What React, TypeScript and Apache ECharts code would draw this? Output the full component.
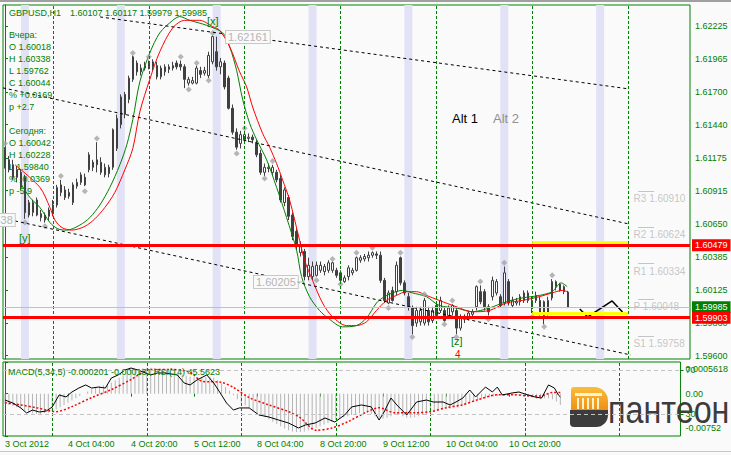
import React, { useEffect, useRef } from 'react';
import * as echarts from 'echarts';

const FONT = 'Liberation Sans';
const GREEN = '#008000';

const BAR_SLOTS = 172;
const labelBars = [0, 16, 32, 48, 64, 80, 96, 112, 128];
const timeLabels = ['3 Oct 2012', '4 Oct 04:00', '4 Oct 20:00', '5 Oct 12:00', '8 Oct 04:00', '8 Oct 20:00', '9 Oct 12:00', '10 Oct 04:00', '10 Oct 20:00'];
const priceTicks = [1.596, 1.5986, 1.60125, 1.60385, 1.6065, 1.60915, 1.61175, 1.6144, 1.617, 1.61965, 1.62225];
const macdTicks = [-0.000752, 0, 0.0005618];
const macdTickLabels = ['-0.00752', '0.00', '0.0005618'];
const rsiLevels = [30, 70];

// [open, high, low, close]
const ohlc = [
  [1.6124, 1.6126, 1.6109, 1.6112], [1.6116, 1.6119, 1.6106, 1.6108], [1.6112, 1.6116, 1.6100, 1.6102], [1.6102, 1.6111, 1.6098, 1.6108],
  [1.6106, 1.6108, 1.6092, 1.6094], [1.6102, 1.6104, 1.6069, 1.6074], [1.6072, 1.6084, 1.6070, 1.6082], [1.6074, 1.6084, 1.6071, 1.6082],
  [1.6084, 1.6086, 1.6071, 1.6072], [1.6073, 1.6076, 1.6067, 1.6070], [1.6068, 1.6074, 1.6066, 1.6072], [1.6071, 1.6078, 1.6068, 1.6076],
  [1.6073, 1.6084, 1.6071, 1.6080], [1.6080, 1.6096, 1.6078, 1.6094], [1.6096, 1.6100, 1.6087, 1.6090], [1.6092, 1.6095, 1.6084, 1.6086],
  [1.6087, 1.6093, 1.6085, 1.6090], [1.6096, 1.6098, 1.6080, 1.6082], [1.6095, 1.6101, 1.6093, 1.6098], [1.6098, 1.6106, 1.6096, 1.6104],
  [1.6102, 1.6105, 1.6095, 1.6096], [1.6108, 1.6122, 1.6106, 1.6120], [1.6114, 1.6116, 1.6107, 1.6110], [1.6112, 1.6130, 1.6106, 1.6116],
  [1.6114, 1.6118, 1.6104, 1.6106], [1.6104, 1.6113, 1.6102, 1.6110], [1.6110, 1.6112, 1.6102, 1.6105], [1.6110, 1.6141, 1.6108, 1.6140],
  [1.6125, 1.6152, 1.6123, 1.6149], [1.6144, 1.6168, 1.6141, 1.6166], [1.6168, 1.6170, 1.6149, 1.6152], [1.6164, 1.6183, 1.6161, 1.6181],
  [1.6180, 1.6199, 1.6178, 1.6198], [1.6193, 1.6195, 1.6183, 1.6186], [1.6186, 1.6192, 1.6183, 1.6189], [1.6189, 1.6194, 1.6187, 1.6191],
  [1.6190, 1.6195, 1.6188, 1.6193], [1.6190, 1.6196, 1.6187, 1.6194], [1.6191, 1.6194, 1.6180, 1.6182], [1.6182, 1.6191, 1.6180, 1.6189],
  [1.6186, 1.6192, 1.6183, 1.6190], [1.6188, 1.6192, 1.6185, 1.6190], [1.6189, 1.6194, 1.6187, 1.6191], [1.6193, 1.6195, 1.6188, 1.6190],
  [1.6192, 1.6195, 1.6187, 1.6190], [1.6190, 1.6192, 1.6173, 1.6180], [1.6177, 1.6182, 1.6175, 1.6180], [1.6177, 1.6182, 1.6176, 1.6179],
  [1.6177, 1.6191, 1.6176, 1.6189], [1.6187, 1.6190, 1.6181, 1.6184], [1.6185, 1.6190, 1.6183, 1.6187], [1.6183, 1.6202, 1.6181, 1.6199],
  [1.6194, 1.6215, 1.6192, 1.6214], [1.6202, 1.6214, 1.6187, 1.6190], [1.6190, 1.6197, 1.6184, 1.6194], [1.6193, 1.6195, 1.6172, 1.6174],
  [1.6181, 1.6183, 1.6156, 1.6157], [1.6157, 1.6160, 1.6136, 1.6138], [1.6138, 1.6141, 1.6124, 1.6126], [1.6129, 1.6139, 1.6125, 1.6136],
  [1.6132, 1.6139, 1.6129, 1.6136], [1.6133, 1.6137, 1.6130, 1.6134], [1.6134, 1.6136, 1.6129, 1.6132], [1.6129, 1.6132, 1.6118, 1.6120],
  [1.6121, 1.6124, 1.6104, 1.6106], [1.6106, 1.6113, 1.6103, 1.6110], [1.6109, 1.6113, 1.6106, 1.6110], [1.6106, 1.6112, 1.6104, 1.6110],
  [1.6106, 1.6108, 1.6098, 1.6100], [1.6101, 1.6104, 1.6082, 1.6084], [1.6082, 1.6094, 1.6079, 1.6092], [1.6086, 1.6088, 1.6068, 1.6071],
  [1.6072, 1.6074, 1.6052, 1.6055], [1.6059, 1.6061, 1.6044, 1.6047], [1.6042, 1.6051, 1.6039, 1.6048], [1.6043, 1.6045, 1.6020, 1.6023],
  [1.6023, 1.6038, 1.6020, 1.6032], [1.6023, 1.6035, 1.6020, 1.6031], [1.6024, 1.6035, 1.6023, 1.6032], [1.6028, 1.6035, 1.6026, 1.6032],
  [1.6027, 1.6033, 1.6024, 1.6031], [1.6028, 1.6036, 1.6026, 1.6034], [1.6028, 1.6035, 1.6026, 1.6034], [1.6028, 1.6030, 1.6022, 1.6024],
  [1.6026, 1.6028, 1.6019, 1.6020], [1.6019, 1.6024, 1.6018, 1.6022], [1.6023, 1.6032, 1.6020, 1.6030], [1.6026, 1.6030, 1.6024, 1.6028],
  [1.6028, 1.6039, 1.6027, 1.6038], [1.6036, 1.6040, 1.6034, 1.6038], [1.6037, 1.6041, 1.6035, 1.6039], [1.6038, 1.6043, 1.6035, 1.6040],
  [1.6040, 1.6043, 1.6038, 1.6042], [1.6041, 1.6043, 1.6037, 1.6040], [1.6040, 1.6043, 1.6018, 1.6020], [1.6020, 1.6022, 1.6002, 1.6004],
  [1.6002, 1.6012, 1.6001, 1.6010], [1.6012, 1.6015, 1.6003, 1.6004], [1.6011, 1.6035, 1.6008, 1.6032], [1.6038, 1.6039, 1.6016, 1.6018],
  [1.6018, 1.6020, 1.6008, 1.6010], [1.6007, 1.6010, 1.5996, 1.5999], [1.5998, 1.6000, 1.5977, 1.5984], [1.5986, 1.5999, 1.5983, 1.5996],
  [1.5987, 1.5999, 1.5984, 1.5996], [1.5986, 1.6006, 1.5984, 1.6004], [1.5996, 1.5999, 1.5984, 1.5987], [1.5988, 1.5999, 1.5986, 1.5996],
  [1.6000, 1.6003, 1.5990, 1.5992], [1.5996, 1.6007, 1.5994, 1.6004], [1.5996, 1.5999, 1.5987, 1.5988], [1.5992, 1.6000, 1.5990, 1.5998],
  [1.5995, 1.6001, 1.5992, 1.6000], [1.5996, 1.5999, 1.5977, 1.5982], [1.5982, 1.5993, 1.5980, 1.5991], [1.5989, 1.5993, 1.5986, 1.5991],
  [1.5990, 1.5996, 1.5988, 1.5994], [1.5993, 1.5997, 1.5990, 1.5995], [1.5999, 1.6016, 1.5996, 1.6015], [1.6011, 1.6016, 1.6001, 1.6003],
  [1.6011, 1.6013, 1.5996, 1.5999], [1.5999, 1.6001, 1.5992, 1.5995], [1.6007, 1.6023, 1.6004, 1.6020], [1.6010, 1.6021, 1.6008, 1.6019],
  [1.6007, 1.6009, 1.5998, 1.6000], [1.6002, 1.6031, 1.6000, 1.6026], [1.6019, 1.6021, 1.6000, 1.6002], [1.6000, 1.6007, 1.5998, 1.6004],
  [1.6002, 1.6006, 1.6000, 1.6003], [1.6003, 1.6009, 1.6000, 1.6007], [1.6004, 1.6012, 1.6002, 1.6010], [1.6010, 1.6012, 1.6002, 1.6004],
  [1.6004, 1.6007, 1.5994, 1.5999], [1.6004, 1.6011, 1.6002, 1.6008], [1.6004, 1.6007, 1.5992, 1.5994], [1.6003, 1.6004, 1.5985, 1.5992],
  [1.5994, 1.6007, 1.5992, 1.6004], [1.6006, 1.6021, 1.6004, 1.6019], [1.6015, 1.6020, 1.6012, 1.6019], [1.6017, 1.6018, 1.6011, 1.6012],
  [1.6011, 1.6016, 1.6009, 1.6015], [1.60107, 1.60117, 1.59979, 1.59985],
];

// [bar, price]
const greenMA = [
  [3.75, 1.6098], [6.25, 1.6086], [8.75, 1.6078], [11.25, 1.6066], [13.25, 1.6061], [15.5, 1.606], [18.75, 1.6064], [21.25, 1.607],
  [23.75, 1.608], [26.25, 1.6094], [28.75, 1.6112], [30.5, 1.6128], [32, 1.6148], [33.75, 1.6178], [36.25, 1.6201], [38.75, 1.6217],
  [42, 1.6227], [43.75, 1.623], [46.25, 1.6227], [50.5, 1.6223], [54.5, 1.6217], [56.25, 1.6206], [58, 1.6187], [59.5, 1.6164],
  [61.25, 1.6145], [63, 1.6132], [65.5, 1.6116], [68, 1.6094], [70.5, 1.607], [73, 1.6044], [74.25, 1.6023], [76.25, 1.6007],
  [78.75, 1.5996], [81.25, 1.5989], [84.5, 1.5983], [88, 1.5984], [90.5, 1.599], [93, 1.6002], [94.5, 1.6006], [97, 1.601],
  [99.5, 1.6012], [102, 1.601], [105.5, 1.6007], [108.75, 1.6], [113, 1.5998], [117, 1.5995], [121.25, 1.5998], [125.5, 1.6003],
  [129.5, 1.6006], [133.75, 1.6008], [137, 1.6011], [139.25, 1.6018], [140.75, 1.6015],
];
const redMA = [
  [2.5, 1.6112], [8.75, 1.6094], [11.25, 1.6078], [12.5, 1.6068], [14.25, 1.6062], [16.75, 1.606], [20, 1.6063], [22.5, 1.6069],
  [25, 1.6078], [27.5, 1.609], [30, 1.6108], [32, 1.6125], [33.75, 1.6154], [36.25, 1.618], [38.75, 1.6202], [42, 1.6221],
  [45, 1.6227], [48.75, 1.6227], [52, 1.6222], [53.75, 1.6219], [56.25, 1.6206], [58.75, 1.6186], [60.5, 1.6174], [62, 1.6158],
  [64.5, 1.6137], [66.25, 1.6126], [68, 1.6113], [69.5, 1.61], [71.25, 1.6084], [73.75, 1.6052], [75, 1.6036], [77, 1.602],
  [79.5, 1.6002], [82, 1.5991], [85.5, 1.5984], [88, 1.5984], [90.5, 1.5987], [93, 1.5996], [95.5, 1.6004], [98, 1.6008],
  [100.5, 1.6011], [103, 1.6011], [105.5, 1.6008], [108.75, 1.6004], [113, 1.5999], [117, 1.5995], [121.25, 1.5996], [125.5, 1.6002],
  [129.5, 1.6004], [133.75, 1.6007], [137, 1.601], [139.5, 1.6012], [140.75, 1.6011],
];

const fractalUp = [
  [0, 1.6129], [14, 1.6103], [23, 1.6133], [32, 1.6201], [36, 1.6198], [44, 1.6198], [48, 1.6193], [52, 1.6217], [60, 1.6141],
  [67, 1.6115], [82, 1.6037], [88, 1.6042], [92, 1.6046], [99, 1.6042], [105, 1.6009], [112, 1.6004], [119, 1.6019], [125, 1.6034], [137, 1.6024],
];
const fractalDown = [
  [5, 1.6066], [10, 1.6063], [20, 1.6091], [46, 1.6172], [51, 1.6179], [58, 1.6121], [65, 1.6101], [78, 1.602], [84, 1.6017],
  [96, 1.5998], [102, 1.5975], [110, 1.5985], [113, 1.5975], [121, 1.5989], [132, 1.5991], [135, 1.5983],
];

const macdHist = [
  -0.00018, -0.0002, -0.00022, -0.00024, -0.00026, -0.0003,
  -0.00033, -0.00035, -0.00036, -0.00036, -0.00035, -0.00034,
  -0.00032, -0.00028, -0.00024, -0.0002, -0.00016, -0.00012,
  -0.00008, -0.00004, 0, 0.00004, 0.00008, 0.00011,
  0.00013, 0.00015, 0.00017, 0.0002, 0.00024, 0.00028,
  0.00032, 0.00036, 0.0004, 0.00042, 0.00044, 0.00045,
  0.00046, 0.00046, 0.00045, 0.00044, 0.00043, 0.00042,
  0.0004, 0.00038, 0.00036, 0.00034, 0.00032, 0.0003,
  0.00029, 0.00028, 0.00028, 0.00029, 0.0003, 0.00028,
  0.00024, 0.00018, 0.00012, 0.00005, -0.00003, -0.0001,
  -0.00016, -0.00021, -0.00026, -0.0003, -0.00034, -0.00038,
  -0.00042, -0.00046, -0.0005, -0.00054, -0.00058, -0.00062,
  -0.00065, -0.00067, -0.00068, -0.00068, -0.00067, -0.00065,
  -0.00063, -0.00061, -0.00058, -0.00055, -0.00052, -0.0005,
  -0.00047, -0.00044, -0.00042, -0.0004, -0.00038, -0.00036,
  -0.00035, -0.00034, -0.00034, -0.00036, -0.0004, -0.00043,
  -0.00044, -0.00043, -0.0004, -0.00038, -0.00038, -0.0004,
  -0.00043, -0.00043, -0.00042, -0.0004, -0.00038, -0.00036,
  -0.00034, -0.00032, -0.0003, -0.00028, -0.00027, -0.00027,
  -0.00026, -0.00025, -0.00023, -0.0002, -0.00017, -0.00014,
  -0.00012, -0.0001, -0.00008, -0.00006, -0.00005, -0.00004,
  -0.00003, -0.00003, -0.00002, -0.00002, -0.00002, -0.00003,
  -0.00004, -0.00005, -0.00007, -0.00009, -0.0001, -0.00008,
  -0.00008, -0.0001, -0.00014, -0.0002,
];
const macdSignal = [
  [0, -0.00016], [4, -0.0002], [8, -0.00025], [13, -0.00032], [17, -0.00023], [22, -0.00007], [27, 0.00007], [32, 0.00025],
  [37, 0.00043], [42, 0.00043], [47, 0.00038], [50, 0.00022], [55, 0.0002], [58, 0.00011], [62, -0.00007], [67, -0.0002],
  [72, -0.00032], [75, -0.00043], [79, -0.00065], [83, -0.00061], [87, -0.0005], [92, -0.00032], [95, -0.00025], [99, -0.00034],
  [104, -0.00034], [108, -0.00032], [112, -0.00025], [116, -0.0002], [120, -0.00011], [125, -0.00002], [129, -0.00002],
  [133, -0.00004], [136, -0.00004], [139, 0.00002], [141, 0.00002],
];
const rsi = [
  [0, 42.7], [2, 40], [4, 35.5], [5.5, 30.9], [7, 33.6], [8.75, 31.8], [10.5, 32.7], [12, 36.4], [13.75, 47.3], [15.5, 45.5],
  [17, 50], [18.75, 53.6], [20.5, 56.4], [22, 53.6], [23.75, 54.5], [25.5, 53.6], [27, 62.7], [28.75, 65.5], [30.5, 70], [32, 71.8],
  [33.75, 70], [37, 65.5], [38.75, 67.3], [40.5, 67.3], [43.75, 65.5], [45.5, 58.2], [47, 56.4], [48.75, 60.9], [51.25, 65.5],
  [53, 58.2], [54.5, 50], [56.25, 40], [58, 33.6], [59.5, 35.5], [62, 35.5], [64.5, 29.1], [67, 27.3], [69.5, 24.5], [72, 21.8],
  [74.5, 17.3], [76.25, 20], [78.75, 21.8], [81.25, 26.4], [83.75, 22.7], [86.25, 29.1], [88, 36.4], [90.5, 38.2], [93, 36.5],
  [95, 24.5], [96.25, 31.8], [98, 44.5], [99.5, 38.2], [102, 29.1], [104.5, 40.9], [107, 42.7], [108.75, 40.9], [111.25, 40.9],
  [113, 38.2], [114.5, 40.9], [116.25, 44.5], [118, 51.8], [119.5, 45.5], [122, 54.5], [123.75, 50], [125, 54.5], [126.25, 47.3],
  [128.75, 49.1], [130.5, 50], [132, 48.2], [134.5, 45.5], [136.25, 44.5], [138, 56.4], [139.5, 53.6], [140.5, 47.3], [141, 45.56],
];

const daySeparators = [12, 36, 60, 84, 108, 132, 156];
const sessionBands = [4, 28, 52, 76, 100, 124, 148];
const resistanceLevel = 1.60479;
const supportLevel = 1.59903;
const bidPrice = 1.59985;
const yellowZone = { from: 132, to: 156, upper: 1.60507, lower: 1.59935 };
const pivotNames = ['R3', 'R2', 'R1', 'P', 'S1'];
const pivotValues = [1.6091, 1.60624, 1.60334, 1.60048, 1.59758];
const trendLines = [
  [[23.8, 1.62297], [156.2, 1.61724]],
  [[-0.5, 1.61732], [156.2, 1.60649]],
  [[2.5, 1.60673], [156.7, 1.59606]],
];
const forecastPath = [[143.9, 1.59972], [145.9, 1.59909], [152, 1.60036], [154.6, 1.59949]];

const infoLines = [
  'Вчера:', 'O 1.60018', 'H 1.60338', 'L 1.59762', 'C 1.60044', '% +0.0169', 'p +2.7', '',
  'Сегодня:', 'O 1.60042', 'H 1.60228', 'L 1.59840', '% -0.0369', 'p -5.9',
];

function txt(x: number, y: number, text: string, fill: string, size = 9, extra: any = {}) {
  return {
    type: 'text', x, y, z: 100,
    style: { text, fill, fontSize: size, fontFamily: FONT, verticalAlign: 'middle', align: 'left', ...extra },
  };
}

function buildOption() {
  const cats = Array.from({ length: BAR_SLOTS }, (_, i) => String(i));
  const showIdx = (i: number) => labelBars.includes(i);
  const candleData = ohlc.map(([o, h, l, c]) => [o, c, l, h]);

  const boxed = { backgroundColor: '#fafafa', borderColor: '#c8c8c8', borderWidth: 1, padding: [1, 2, 0, 2] };

  const graphics: any[] = [
    { type: 'rect', z: 100, shape: { x: 0, y: 0, width: 731, height: 2 }, style: { fill: '#a0a0a0' } },
    { type: 'rect', z: 100, shape: { x: 0, y: 451, width: 731, height: 1 }, style: { fill: '#c8c8c8' } },
    txt(9, 13, 'GBPUSD,H1', GREEN),
    txt(70, 13, '1.60107 1.60117 1.59979 1.59985', GREEN),
    ...infoLines.map((s, i) => txt(9, 35 + i * 12, s, GREEN)),
    txt(8, 372, 'MACD(5,34,5) -0.000201 -0.000131 RSI(14) 45.5623', GREEN),
    txt(452, 118, 'Alt 1', '#000000', 13),
    txt(493, 118, 'Alt 2', '#909090', 13),
    txt(207, 21, '[x]', GREEN, 11),
    txt(19, 238, '[y]', GREEN, 11),
    txt(451, 341, '[z]', GREEN, 11),
    txt(455, 354, '4', '#ff0000', 10),
    txt(226, 37, '1.62161', '#b4b4b4', 11, boxed),
    txt(254, 282, '1.60205', '#b4b4b4', 11, boxed),
    txt(-29, 220, '1.60638', '#b4b4b4', 11, boxed),
    { type: 'line', z: 100, shape: { x1: 297, y1: 282, x2: 305, y2: 282 }, style: { stroke: '#b4b4b4', lineWidth: 1 } },
    {
      type: 'group', z: 100, children: [
        {
          type: 'rect', shape: { x: 571, y: 387, width: 37, height: 26, r: [3, 14, 0, 0] },
          style: { fill: new echarts.graphic.LinearGradient(0, 0, 0, 1, [{ offset: 0, color: '#f9bd3c' }, { offset: 1, color: '#ee8a10' }]) },
        },
        { type: 'rect', shape: { x: 575, y: 393, width: 27, height: 3 }, style: { fill: '#fff1c8' } },
        ...[577, 582, 587, 592, 597].map((x) => ({ type: 'rect', shape: { x, y: 398, width: 2, height: 11 }, style: { fill: '#fff1c8' } })),
        { type: 'rect', shape: { x: 570, y: 410, width: 38, height: 17, r: [0, 0, 12, 4] }, style: { fill: '#3c3c3c' } },
        {
          type: 'text', x: 608, y: 410, scaleX: 0.85,
          style: { text: 'пантеон', fill: '#3c3c3c', fontSize: 38, fontFamily: FONT, verticalAlign: 'middle', align: 'left' },
        },
      ],
    },
  ];

  const hidden = { lineStyle: { opacity: 0 }, symbol: 'none' };
  const sepLine = (x: number) => ({ xAxis: x, lineStyle: { color: GREEN, type: [3, 2], width: 1 } });
  const boxLabel = (text: string, bg: string) => ({
    show: true, position: 'end', distance: 2, formatter: text, color: '#ffffff', backgroundColor: bg,
    padding: [2, 3, 1, 3], fontSize: 9, fontFamily: FONT,
  });

  return {
    animation: false,
    backgroundColor: '#fafafa',
    grid: [
      { left: 3, top: 5, width: 687, height: 354, show: true, borderColor: GREEN, borderWidth: 1, backgroundColor: '#fafafa' },
      { left: 3, top: 362, width: 687, height: 74, show: true, borderColor: GREEN, borderWidth: 1, backgroundColor: '#fafafa' },
    ],
    xAxis: [
      { type: 'category', gridIndex: 0, data: cats, show: false },
      { type: 'value', gridIndex: 0, min: -0.5, max: BAR_SLOTS - 0.5, show: false },
      {
        type: 'category', gridIndex: 1, data: cats,
        axisLine: { show: false },
        axisTick: { show: true, interval: (i: number) => showIdx(i), alignWithLabel: true, length: 3, lineStyle: { color: GREEN } },
        axisLabel: {
          interval: (i: number) => showIdx(i), align: 'left', margin: 3, color: GREEN, fontSize: 9, fontFamily: FONT,
          formatter: (_v: string, i: number) => (showIdx(i) ? timeLabels[labelBars.indexOf(i)] : ''),
        },
        splitLine: { show: false },
      },
      { type: 'value', gridIndex: 1, min: -0.5, max: BAR_SLOTS - 0.5, show: false },
    ],
    yAxis: [
      {
        type: 'value', gridIndex: 0, position: 'right', min: 1.59574, max: 1.62392,
        axisLine: { show: true, lineStyle: { color: GREEN } },
        axisTick: { show: true, length: 3, lineStyle: { color: GREEN }, customValues: priceTicks },
        axisLabel: { color: GREEN, fontSize: 9, fontFamily: FONT, margin: 5, customValues: priceTicks, formatter: (v: number) => v.toFixed(5) },
        splitLine: { show: false },
      },
      {
        type: 'value', gridIndex: 1, position: 'right', min: -0.000752, max: 0.0005618,
        axisLine: { show: true, lineStyle: { color: GREEN } },
        axisTick: { show: true, length: 3, lineStyle: { color: GREEN }, customValues: macdTicks },
        axisLabel: {
          color: GREEN, fontSize: 9, fontFamily: FONT, margin: 5, customValues: macdTicks,
          formatter: (v: number) => {
            const k = macdTicks.findIndex((t) => Math.abs(t - v) < 1e-9);
            if (k < 0) return '';
            if (k === 0) return `{lo|${macdTickLabels[k]}}`;
            if (k === macdTicks.length - 1) return `{hi|${macdTickLabels[k]}}`;
            return macdTickLabels[k];
          },
          rich: {
            hi: { color: GREEN, fontSize: 9, fontFamily: FONT, padding: [14, 0, 0, 0] },
            lo: { color: GREEN, fontSize: 9, fontFamily: FONT, padding: [0, 0, 16, 0] },
          },
        },
        splitLine: { show: false },
      },
      {
        type: 'value', gridIndex: 1, position: 'right', min: 10, max: 77.27,
        axisLine: { show: false },
        axisTick: { show: true, length: 3, lineStyle: { color: GREEN }, customValues: rsiLevels },
        axisLabel: { color: GREEN, fontSize: 9, fontFamily: FONT, margin: 5, customValues: rsiLevels, formatter: (v: number) => String(Math.round(v)) },
        splitLine: { show: false },
      },
    ],
    graphic: graphics,
    series: [
      {
        name: 'bands', type: 'line', xAxisIndex: 1, yAxisIndex: 0, data: [[0, 1.61]], z: 1, ...hidden, silent: true,
        markArea: {
          silent: true, itemStyle: { color: '#e2e2f6' },
          data: sessionBands.map((s) => [{ xAxis: s }, { xAxis: s + 2 }]),
        },
      },
      {
        name: 'GBPUSD', type: 'candlestick', xAxisIndex: 0, yAxisIndex: 0, data: candleData, barWidth: 2, z: 2,
        itemStyle: { color: '#ffffff', color0: '#404040', borderColor: '#404040', borderColor0: '#404040', borderWidth: 1 },
      },
      {
        name: 'green', type: 'line', xAxisIndex: 1, yAxisIndex: 0, data: greenMA, symbol: 'none', smooth: 0.3, z: 3,
        lineStyle: { color: GREEN, width: 1 },
      },
      {
        name: 'red', type: 'line', xAxisIndex: 1, yAxisIndex: 0, data: redMA, symbol: 'none', smooth: 0.3, z: 3,
        lineStyle: { color: '#ff0000', width: 1 },
      },
      {
        name: 'fractalUp', type: 'scatter', xAxisIndex: 1, yAxisIndex: 0, data: fractalUp, symbol: 'diamond', symbolSize: 6, z: 3,
        itemStyle: { color: '#a4a4a4' },
      },
      {
        name: 'fractalDown', type: 'scatter', xAxisIndex: 1, yAxisIndex: 0, data: fractalDown, symbol: 'diamond', symbolSize: 6, z: 3,
        itemStyle: { color: '#a4a4a4' },
      },
      {
        name: 'forecast', type: 'line', xAxisIndex: 1, yAxisIndex: 0, data: forecastPath, symbol: 'none', z: 4,
        lineStyle: { color: '#000000', width: 1.5 },
      },
      {
        name: 'pivotLabels', type: 'scatter', xAxisIndex: 1, yAxisIndex: 0, symbolSize: 1, itemStyle: { color: 'rgba(0,0,0,0)' }, z: 4,
        data: pivotValues.map((p, i) => ({
          value: [157.5, p],
          label: { show: true, position: [0, 3], formatter: `${pivotNames[i]} ${p.toFixed(5)}`, color: '#b8b8b8', fontSize: 10, fontFamily: FONT },
        })),
      },
      {
        name: 'levels', type: 'line', xAxisIndex: 1, yAxisIndex: 0, data: [[0, 1.61]], z: 4, ...hidden, silent: true,
        markLine: {
          silent: true, symbol: ['none', 'none'], animation: false, precision: 6,
          label: { show: false },
          data: [
            ...trendLines.map(([a, b]) => [
              { coord: a, lineStyle: { color: '#000000', type: [3, 3], width: 1 } },
              { coord: b },
            ]),
            ...pivotValues.map((p) => [{ coord: [158.5, p], lineStyle: { color: '#c4c4c4', type: 'solid', width: 1 } }, { coord: [162.5, p] }]),
            ...daySeparators.map(sepLine),
            { yAxis: bidPrice, lineStyle: { color: '#c0c0c0', type: 'solid', width: 1 }, label: boxLabel(bidPrice.toFixed(5), GREEN) },
            [{ coord: [yellowZone.from, yellowZone.upper], lineStyle: { color: '#ffff00', type: 'solid', width: 3 } }, { coord: [yellowZone.to, yellowZone.upper] }],
            [{ coord: [yellowZone.from, yellowZone.lower], lineStyle: { color: '#ffff00', type: 'solid', width: 3 } }, { coord: [yellowZone.to, yellowZone.lower] }],
            { yAxis: resistanceLevel, lineStyle: { color: '#ff0000', type: 'solid', width: 3 }, label: boxLabel(resistanceLevel.toFixed(5), '#ff0000') },
            { yAxis: supportLevel, lineStyle: { color: '#ff0000', type: 'solid', width: 3 }, label: boxLabel(supportLevel.toFixed(5), '#ff0000') },
          ],
        },
      },
      {
        name: 'MACD', type: 'bar', xAxisIndex: 2, yAxisIndex: 1, data: macdHist, barWidth: 1, z: 1,
        itemStyle: { color: '#b4b4b4' },
      },
      {
        name: 'Signal', type: 'line', xAxisIndex: 3, yAxisIndex: 1, data: macdSignal, symbol: 'none', smooth: 0.3, z: 3,
        lineStyle: { color: '#ff0000', width: 1.5, type: [2, 2] },
        markLine: {
          silent: true, symbol: ['none', 'none'], label: { show: false }, precision: 6,
          data: daySeparators.map(sepLine),
        },
      },
      {
        name: 'RSI', type: 'line', xAxisIndex: 3, yAxisIndex: 2, data: rsi, symbol: 'none', z: 3,
        lineStyle: { color: '#000000', width: 1 },
        markLine: {
          silent: true, symbol: ['none', 'none'], label: { show: false }, precision: 6,
          data: rsiLevels.map((v) => ({ yAxis: v, lineStyle: { color: '#c4c4c4', type: [4, 3], width: 1 } })),
        },
      },
    ],
  };
}

export default function App() {
  const ref = useRef<HTMLDivElement>(null);
  useEffect(() => {
    if (!ref.current) return;
    const chart = echarts.init(ref.current, null, { renderer: 'svg' });
    chart.setOption(buildOption() as any);
    return () => chart.dispose();
  }, []);
  return <div ref={ref} style={{ position: 'absolute', left: 0, top: 0, width: 731, height: 455 }} />;
}
